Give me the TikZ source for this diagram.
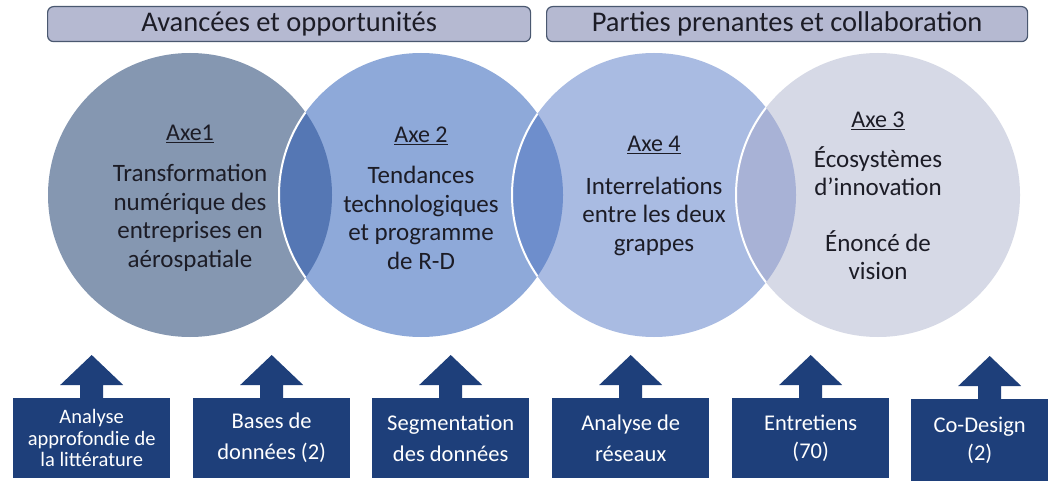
\documentclass[tikz,border=0pt]{standalone}
\usepackage{fontspec}
\setmainfont{Carlito}
\usetikzlibrary{calc}

\definecolor{hdrfill}{HTML}{B5B9D1}
\definecolor{hdrline}{HTML}{4A5870}
\definecolor{axeA}{HTML}{8597B1}
\definecolor{axeB}{HTML}{8EA9D9}
\definecolor{axeC}{HTML}{A9BBE2}
\definecolor{axeD}{HTML}{D6D9E6}
\definecolor{lensAB}{HTML}{5577B4}
\definecolor{lensBC}{HTML}{6E8ECC}
\definecolor{lensCD}{HTML}{A8B2D6}
\definecolor{navy}{HTML}{1E3F7A}
\definecolor{ink}{HTML}{1C1C26}

% size of the underlined axis titles
\newcommand\axelabelfont{\fontsize{24}{28}\selectfont}

\begin{document}
\begin{tikzpicture}[x=1pt,y=-1pt,
  hdr/.style={draw=hdrline, line width=1.2pt, fill=hdrfill, rounded corners=6pt,
    anchor=north west, minimum height=35pt, inner sep=0pt, text=ink,
    font=\fontsize{28.5}{30}\selectfont},
  axe/.style={circle, minimum size=284pt, inner sep=0pt},
  axetext/.style={align=center, text=ink, font=\fontsize{25}{28.5}\selectfont},
  method/.style={fill=navy, anchor=north west, minimum width=157pt, minimum height=80pt,
    inner sep=0pt, align=center, text=white, font=\fontsize{22.5}{31}\selectfont}
]
\useasboundingbox (0,0) rectangle (1048,481);
\fill[white] (0,0) rectangle (1048,481);

% headers
\node[hdr, minimum width=483pt] (h1) at (47,6) {Avancées et opportunités};
\node[hdr, minimum width=481pt] (h2) at (546,6) {Parties prenantes et collaboration};

% the four axes
\node[axe, fill=axeA] (c1) at (190,195) {};
\node[axe, fill=axeB] (c2) at (421,195) {};
\node[axe, fill=axeC] (c3) at (654,195) {};
\node[axe, fill=axeD] (c4) at (878,195) {};

% overlaps
\begin{scope}
  \clip (c1.center) circle[radius=142pt];
  \fill[lensAB] (c2.center) circle[radius=142pt];
\end{scope}
\begin{scope}
  \clip (c2.center) circle[radius=142pt];
  \fill[lensBC] (c3.center) circle[radius=142pt];
\end{scope}
\begin{scope}
  \clip (c3.center) circle[radius=142pt];
  \fill[lensCD] (c4.center) circle[radius=142pt];
\end{scope}

% white rims where a circle lies over its neighbour
\begin{scope}
  \clip (c1.center) circle[radius=142pt];
  \draw[white, line width=2pt] (c2.center) circle[radius=142pt];
\end{scope}
\begin{scope}
  \clip (c2.center) circle[radius=142pt];
  \draw[white, line width=2pt] (c3.center) circle[radius=142pt];
\end{scope}
\begin{scope}
  \clip (c3.center) circle[radius=142pt];
  \draw[white, line width=2pt] (c4.center) circle[radius=142pt];
\end{scope}

% axis texts
\node[axetext] (t1) at ($(c1.center)+(0,3)$) {{\axelabelfont\underline{Axe1}}\\[13pt]
  Transformation\\numérique des\\entreprises en\\aérospatiale};
\node[axetext] (t2) at ($(c2.center)+(0,3)$) {{\axelabelfont\underline{Axe 2}}\\[13pt]
  Tendances\\technologiques\\et programme\\de R-D};
\node[axetext] (t3) at ($(c3.center)+(0,1)$) {{\axelabelfont\underline{Axe 4}}\\[14pt]
  Interrelations\\entre les deux\\grappes};
\node[axetext] (t4) at ($(c4.center)+(0,1)$) {{\axelabelfont\underline{Axe 3}}\\[11pt]
  Écosystèmes\\d’innovation\\[27pt]Énoncé de\\vision};

% methods
\node[method, font=\fontsize{20.5}{21.7}\selectfont] (b1) at (13,398)
  {Analyse\\approfondie de\\la littérature};
\node[method] (b2) at (193,398) {Bases de\\données (2)};
\node[method] (b3) at (372,398) {Segmentation\\des données};
\node[method] (b4) at (552,398) {Analyse de\\réseaux};
\node[method, font=\fontsize{22.5}{28}\selectfont] (b5) at (732,398) {Entretiens\\(70)};
\node[method, font=\fontsize{22.5}{28}\selectfont, minimum width=137pt, minimum height=82pt]
  (b6) at (911,399) {Co-Design\\(2)};

% upward arrows on the method boxes
\foreach \b/\dx in {b1/0,b2/0,b3/0,b4/0,b5/0,b6/10} {
  \fill[navy] ($(\b.north)+(\dx-11.5,1)$) -- ($(\b.north)+(\dx-11.5,-13)$)
    -- ($(\b.north)+(\dx-31.5,-13)$) -- ($(\b.north)+(\dx,-43)$)
    -- ($(\b.north)+(\dx+31.5,-13)$) -- ($(\b.north)+(\dx+11.5,-13)$)
    -- ($(\b.north)+(\dx+11.5,1)$) -- cycle;
}
\end{tikzpicture}
\end{document}
